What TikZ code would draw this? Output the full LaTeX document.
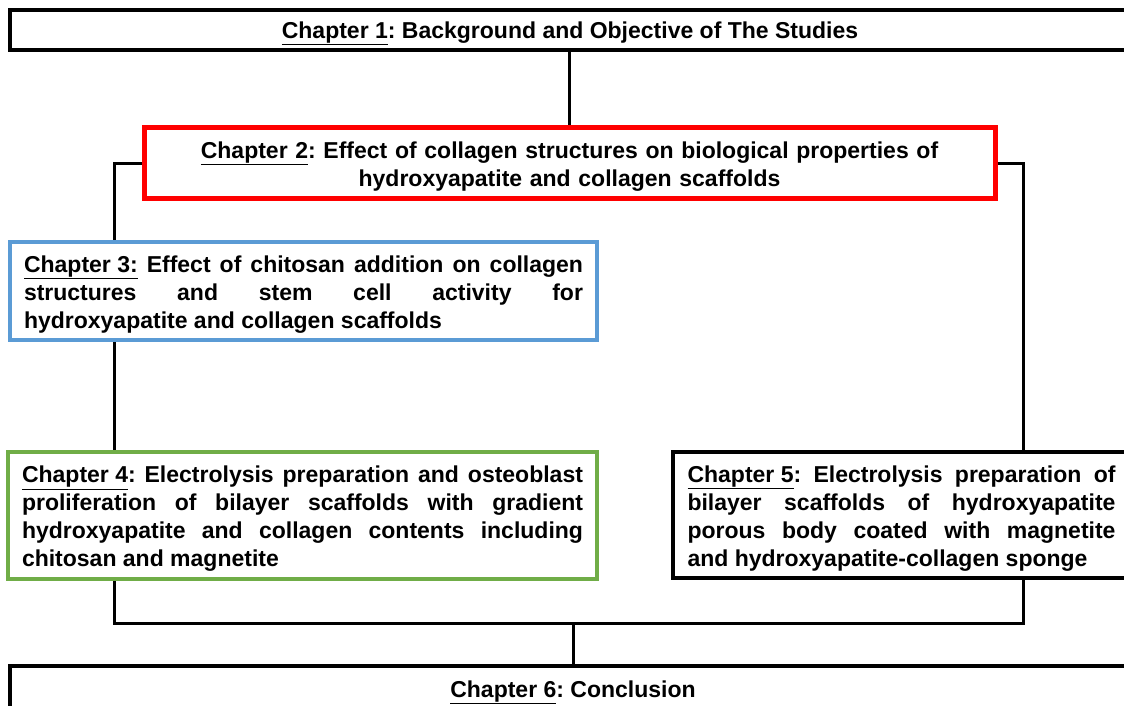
\documentclass[tikz,border=0pt]{standalone}
\usepackage{fontspec}
\setmainfont{Liberation Sans}
\definecolor{chblue}{RGB}{91,155,213}
\definecolor{chgreen}{RGB}{112,173,71}
\hyphenpenalty=10000
\frenchspacing
\newcommand{\lift}{\rule{0pt}{23.5pt}}
\begin{document}
\begin{tikzpicture}[x=1pt,y=-1pt,
  box/.style={draw,line width=4pt,fill=white,inner sep=0pt,
    font=\bfseries\fontsize{23}{28}\selectfont},
  link/.style={line width=3pt}]
\useasboundingbox (0,0) rectangle (1124,706);
\node[box,minimum width=1120pt,minimum height=40pt,align=center] (ch1) at (570,30)
  {\lift\underline{Chapter 1}: Background and Objective of The Studies};
\node[box,draw=red,line width=5pt,minimum width=851pt,minimum height=70pt,text width=820pt,align=center] (ch2) at (569.5,163)
  {\lift\underline{Chapter 2}: Effect of collagen structures on biological properties of\\hydroxyapatite and collagen scaffolds};
\node[box,draw=chblue,minimum width=587pt,minimum height=98pt,text width=559pt,align=justify] (ch3) at (303.5,291)
  {\lift\underline{Chapter 3:} Effect of chitosan addition on collagen\linebreak structures and stem cell activity for\linebreak hydroxyapatite and collagen scaffolds};
\node[box,draw=chgreen,minimum width=589pt,minimum height=127pt,text width=561pt,align=justify] (ch4) at (302.5,515.5)
  {\lift\underline{Chapter 4}: Electrolysis preparation and osteoblast\linebreak proliferation of bilayer scaffolds with gradient\linebreak hydroxyapatite and collagen contents including\linebreak chitosan and magnetite};
\node[box,minimum width=457pt,minimum height=126pt,text width=428pt,align=justify] (ch5) at (901.5,515)
  {\lift\underline{Chapter 5}: Electrolysis preparation of\linebreak bilayer scaffolds of hydroxyapatite\linebreak porous body coated with magnetite\linebreak and hydroxyapatite-collagen sponge};
\node[box,minimum width=1126pt,minimum height=46pt,align=center] (ch6) at (573,689)
  {\lift\underline{Chapter 6}: Conclusion};
\coordinate (l) at (114,0);
\coordinate (r) at (1023,0);
\coordinate (j) at (573,623);
\draw[link] (ch1.south -| ch2.north) -- (ch2.north);
\draw[link] (ch2.west) -| (ch3.north -| l);
\draw[link] (ch2.east) -| (ch5.north -| r);
\draw[link] (ch3.south -| l) -- (ch4.north -| l);
\draw[link] (ch4.south -| l) |- (j) -| (ch5.south -| r);
\draw[link] (j) -- (ch6.north -| j);
\end{tikzpicture}
\end{document}
